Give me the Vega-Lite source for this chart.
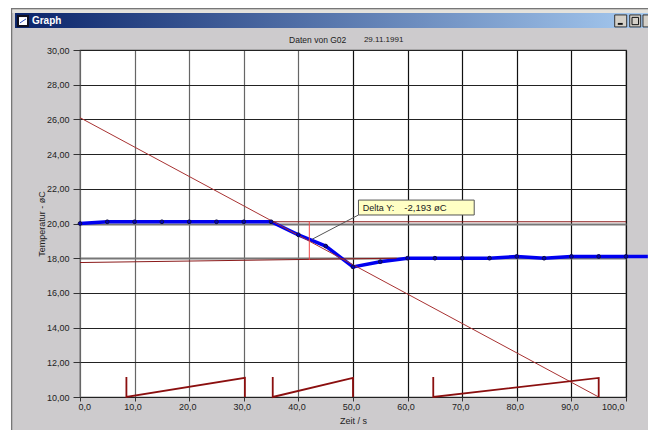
{
"$schema":"https://vega.github.io/schema/vega-lite/v6.json",
"width":546,"height":347,
"autosize":"none",
"padding":{"left":80,"top":50,"right":22,"bottom":33},
"background":"#cdcbcd",
"config":{"view":{"fill":"#ffffff","stroke":"#3a3a3a","strokeWidth":1.2},"text":{"font":"Liberation Sans"}},
"data":{"values":[{}]},
"layer":[
{"data":{"name":"temp","values":[{"t":0,"temp":20.0},{"t":5,"temp":20.1},{"t":10,"temp":20.1},{"t":15,"temp":20.1},{"t":20,"temp":20.1},{"t":25,"temp":20.1},{"t":30,"temp":20.1},{"t":35,"temp":20.1},{"t":40,"temp":19.35},{"t":45,"temp":18.7},{"t":50,"temp":17.5},{"t":55,"temp":17.8},{"t":60,"temp":18.0},{"t":65,"temp":18.0},{"t":70,"temp":18.0},{"t":75,"temp":18.0},{"t":80,"temp":18.1},{"t":85,"temp":18.0},{"t":90,"temp":18.1},{"t":95,"temp":18.1},{"t":100,"temp":18.1},{"t":104,"temp":18.1}]},
 "mark":{"type":"line","color":"#0000f0","strokeWidth":3.5,"clip":false},
 "encoding":{
  "x":{"field":"t","type":"quantitative","scale":{"domain":[0,100],"nice":false,"zero":false},
   "axis":{"title":"Zeit / s","titleFont":"Liberation Sans","titleFontWeight":"normal","titleFontSize":9,"titleColor":"#222","titlePadding":5,"values":[0,10,20,30,40,50,60,70,80,90,100],"labelOverlap":false,"labelExpr":"replace(format(datum.value,'.1f'),'.',',')","labelFont":"Liberation Sans","labelFontSize":9,"labelColor":"#222","labelOffset":-2,"labelPadding":1,"tickSize":4,"tickColor":"#333","domain":false,"grid":true,"gridOpacity":1,"gridWidth":1.2,"gridColor":{"condition":{"test":"datum.value<=40","value":"#666666"},"value":"#111111"}}},
  "y":{"field":"temp","type":"quantitative","scale":{"domain":[10,30],"nice":false,"zero":false},
   "axis":{"title":"Temperatur - øC","titleFont":"Liberation Sans","titleFontWeight":"normal","titleFontSize":9,"titleColor":"#222","titlePadding":0,"values":[10,12,14,16,18,20,22,24,26,28,30],"tickCount":11,"labelOverlap":false,"labelExpr":"replace(format(datum.value,'.2f'),'.',',')","labelFont":"Liberation Sans","labelFontSize":9,"labelColor":"#222","labelPadding":4,"tickSize":7,"tickColor":"#333","domain":false,"grid":true,"gridOpacity":1,"gridWidth":{"condition":{"test":"datum.value==18||datum.value==20","value":2},"value":1.2},"gridColor":{"condition":{"test":"datum.value==18||datum.value==20","value":"#777777"},"value":"#222222"}}}
 }},
{"data":{"values":[{"t":0,"v":26.1},{"t":95,"v":10}]},"mark":{"type":"line","color":"#a83232","strokeWidth":1},
 "encoding":{"x":{"field":"t","type":"quantitative"},"y":{"field":"v","type":"quantitative"}}},
{"data":{"values":[{"t":0,"v":17.75},{"t":58,"v":18.0}]},"mark":{"type":"line","color":"#8b1a1a","strokeWidth":1},
 "encoding":{"x":{"field":"t","type":"quantitative"},"y":{"field":"v","type":"quantitative"}}},
{"data":{"values":[{"t":35,"v":20.1},{"t":100,"v":20.1}]},"mark":{"type":"line","color":"#8b1a1a","strokeWidth":1},
 "encoding":{"x":{"field":"t","type":"quantitative"},"y":{"field":"v","type":"quantitative"}}},
{"data":{"values":[{"t":42,"v":20.1},{"t":42,"v":17.9}]},"mark":{"type":"line","color":"#f04848","strokeWidth":1},
 "encoding":{"x":{"field":"t","type":"quantitative"},"y":{"field":"v","type":"quantitative"},"order":{"field":"v"}}},
{"data":{"name":"saw","values":[{"seg":"a","i":1,"t":8.5,"v":11.15},{"seg":"a","i":2,"t":8.5,"v":10},{"seg":"a","i":3,"t":30.2,"v":11.1},{"seg":"a","i":4,"t":30.2,"v":10},{"seg":"b","i":1,"t":35.3,"v":11.15},{"seg":"b","i":2,"t":35.3,"v":10},{"seg":"b","i":3,"t":50,"v":11.1},{"seg":"b","i":4,"t":50,"v":10},{"seg":"c","i":1,"t":64.7,"v":11.15},{"seg":"c","i":2,"t":64.7,"v":10},{"seg":"c","i":3,"t":95,"v":11.1},{"seg":"c","i":4,"t":95,"v":10}]},
 "mark":{"type":"line","color":"#8b0f0f","strokeWidth":1.8},
 "encoding":{"x":{"field":"t","type":"quantitative"},"y":{"field":"v","type":"quantitative"},"detail":{"field":"seg"},"order":{"field":"i"}}},
{"data":{"name":"temp"},"transform":[{"filter":"datum.t<=100"}],
 "mark":{"type":"point","filled":true,"fill":"#0000c0","stroke":"#101040","strokeWidth":1,"size":14,"opacity":1},
 "encoding":{"x":{"field":"t","type":"quantitative"},"y":{"field":"temp","type":"quantitative"}}},
{"mark":{"type":"rule","color":"#555555","strokeWidth":1},"encoding":{"x":{"datum":42.5,"type":"quantitative"},"x2":{"datum":51},"y":{"datum":19.09,"type":"quantitative"},"y2":{"datum":20.49}}},
{"mark":{"type":"rect","fill":"#ffffc4","stroke":"#555555","strokeWidth":1},"encoding":{"x":{"datum":51,"type":"quantitative"},"x2":{"datum":72.2},"y":{"datum":21.35,"type":"quantitative"},"y2":{"datum":20.49}}},
{"mark":{"type":"text","text":"Delta Y:","align":"left","baseline":"middle","fontSize":9,"color":"#222"},"encoding":{"x":{"datum":51.8,"type":"quantitative"},"y":{"datum":20.92,"type":"quantitative"}}},
{"mark":{"type":"text","text":"-2,193  øC","align":"left","baseline":"middle","fontSize":9.5,"color":"#222"},"encoding":{"x":{"datum":59.4,"type":"quantitative"},"y":{"datum":20.92,"type":"quantitative"}}},
{"mark":{"type":"text","text":"Daten von G02","align":"left","baseline":"middle","fontSize":8.5,"color":"#222"},"encoding":{"x":{"datum":38.3,"type":"quantitative"},"y":{"datum":30.58,"type":"quantitative"}}},
{"mark":{"type":"text","text":"29.11.1991","align":"left","baseline":"middle","fontSize":8,"color":"#222"},"encoding":{"x":{"datum":52.0,"type":"quantitative"},"y":{"datum":30.58,"type":"quantitative"}}},
{"mark":{"type":"rect","fill":"#ffffff"},"encoding":{"x":{"datum":-14.65,"type":"quantitative"},"x2":{"datum":-12.64},"y":{"datum":32.88,"type":"quantitative"},"y2":{"datum":8.1}}},
{"mark":{"type":"rect","fill":"#ffffff"},"encoding":{"x":{"datum":-14.65,"type":"quantitative"},"x2":{"datum":104.03},"y":{"datum":32.88,"type":"quantitative"},"y2":{"datum":32.42}}},
{"mark":{"type":"rect","fill":"#777777"},"encoding":{"x":{"datum":-12.64,"type":"quantitative"},"x2":{"datum":-12.4},"y":{"datum":32.42,"type":"quantitative"},"y2":{"datum":8.1}}},
{"mark":{"type":"rect","fill":"#777777"},"encoding":{"x":{"datum":-12.64,"type":"quantitative"},"x2":{"datum":104.03},"y":{"datum":32.42,"type":"quantitative"},"y2":{"datum":32.33}}},
{"mark":{"type":"rect","fill":"#e4e2dc"},"encoding":{"x":{"datum":-12.4,"type":"quantitative"},"x2":{"datum":104.03},"y":{"datum":32.33,"type":"quantitative"},"y2":{"datum":32.13}}},
{"mark":{"type":"rect","fill":{"gradient":"linear","x1":0,"y1":0,"x2":1,"y2":0,"stops":[{"offset":0,"color":"#0a246a"},{"offset":1,"color":"#a6caf0"}]}},"encoding":{"x":{"datum":-11.9,"type":"quantitative"},"x2":{"datum":104.03},"y":{"datum":32.13,"type":"quantitative"},"y2":{"datum":31.27}}},
{"mark":{"type":"text","text":"Graph","align":"left","baseline":"middle","fontSize":10,"fontWeight":"bold","color":"#ffffff"},"encoding":{"x":{"datum":-8.8,"type":"quantitative"},"y":{"datum":31.67,"type":"quantitative"}}},
{"mark":{"type":"rect","fill":"#101020"},"encoding":{"x":{"datum":-11.54,"type":"quantitative"},"x2":{"datum":-9.34},"y":{"datum":32.02,"type":"quantitative"},"y2":{"datum":31.33}}},
{"mark":{"type":"rect","fill":"#ffffff"},"encoding":{"x":{"datum":-11.17,"type":"quantitative"},"x2":{"datum":-9.71},"y":{"datum":31.9,"type":"quantitative"},"y2":{"datum":31.44}}},
{"mark":{"type":"rule","color":"#3050c0","strokeWidth":1},"encoding":{"x":{"datum":-10.99,"type":"quantitative"},"x2":{"datum":-9.89},"y":{"datum":31.56,"type":"quantitative"},"y2":{"datum":31.79}}},
{"mark":{"type":"rect","fill":"#d4d0c8","stroke":"#333333","strokeWidth":1},"encoding":{"x":{"datum":97.93,"type":"quantitative"},"x2":{"datum":100.13},"y":{"datum":32.02,"type":"quantitative"},"y2":{"datum":31.33}}},
{"mark":{"type":"rect","fill":"#111111"},"encoding":{"x":{"datum":98.5,"type":"quantitative"},"x2":{"datum":99.4},"y":{"datum":31.56,"type":"quantitative"},"y2":{"datum":31.45}}},
{"mark":{"type":"rect","fill":"#d4d0c8","stroke":"#333333","strokeWidth":1},"encoding":{"x":{"datum":100.68,"type":"quantitative"},"x2":{"datum":102.69},"y":{"datum":32.02,"type":"quantitative"},"y2":{"datum":31.33}}},
{"mark":{"type":"rect","fill":"#d4d0c8","stroke":"#111111","strokeWidth":1},"encoding":{"x":{"datum":101.1,"type":"quantitative"},"x2":{"datum":102.3},"y":{"datum":31.88,"type":"quantitative"},"y2":{"datum":31.46}}},
{"mark":{"type":"rect","fill":"#d4d0c8","stroke":"#333333","strokeWidth":1},"encoding":{"x":{"datum":103.11,"type":"quantitative"},"x2":{"datum":104.6},"y":{"datum":32.02,"type":"quantitative"},"y2":{"datum":31.33}}}
]
}
